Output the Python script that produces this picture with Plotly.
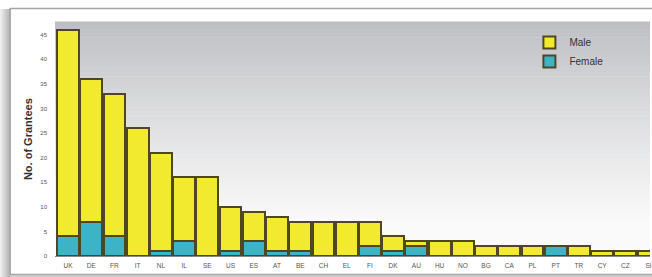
import plotly.graph_objects as go

countries = ["UK", "DE", "FR", "IT", "NL", "IL", "SE", "US", "ES", "AT", "BE", "CH", "EL",
             "FI", "DK", "AU", "HU", "NO", "BG", "CA", "PL", "PT", "TR", "CY", "CZ", "SI"]
totals = [46, 36, 33, 26, 21, 16, 16, 10, 9, 8, 7, 7, 7, 7, 4, 3, 3, 3, 2, 2, 2, 2, 2, 1, 1, 1]
female = [4, 7, 4, 0, 1, 3, 0, 1, 3, 1, 1, 0, 0, 2, 1, 2, 0, 0, 0, 0, 0, 2, 0, 0, 0, 0]
male = [t - f for t, f in zip(totals, female)]
y_ticks = [0, 5, 10, 15, 20, 25, 30, 35, 40, 45]

W, H = 652, 277
L, R, T, B = 55, 0, 22, 21
pw, ph = W - L - R, H - T - B

def px_x(x):
    return (x - L) / pw

def px_y(y):
    return (H - B - y) / ph

YELLOW = "#f2ea2e"
TEAL = "#3db4c6"
EDGE = "#4f4722"

fig = go.Figure()
fig.add_trace(go.Bar(x=countries, y=female, name="Female",
                     marker=dict(color=TEAL, line=dict(color=EDGE, width=2))))
fig.add_trace(go.Bar(x=countries, y=male, name="Male",
                     marker=dict(color=YELLOW, line=dict(color=EDGE, width=2))))

shapes = []
# gradient background bands
n = 60
top = (188, 189, 193)
bot = (250, 250, 250)
for i in range(n):
    f0 = i / n
    f1 = (i + 1) / n
    t = 1 - (f0 + f1) / 2  # 0 at top
    t = min(1.0, t / 0.85) ** 0.85
    c = tuple(int(round(top[k] + (bot[k] - top[k]) * t)) for k in range(3))
    shapes.append(dict(type="rect", xref="paper", yref="paper", x0=0, x1=1,
                       y0=f0, y1=f1 + 0.002, fillcolor="rgb(%d,%d,%d)" % c,
                       line=dict(width=0), layer="below"))
# left shadow strip
m = 10
for i in range(m):
    g = int(round(235 - (235 - 170) * i / (m - 1)))
    shapes.append(dict(type="rect", xref="paper", yref="paper",
                       x0=px_x(i), x1=px_x(i + 1.05), y0=px_y(277), y1=px_y(9),
                       fillcolor="rgb(%d,%d,%d)" % (g, g, g), line=dict(width=0),
                       layer="below"))
# outer frame
shapes.append(dict(type="rect", xref="paper", yref="paper",
                   x0=px_x(10), x1=px_x(700), y0=px_y(274.5), y1=px_y(8.5),
                   line=dict(color="#a5a5a5", width=1.5), fillcolor="rgba(0,0,0,0)",
                   layer="below"))
shapes.append(dict(type="rect", xref="paper", yref="paper",
                   x0=px_x(10), x1=px_x(700), y0=px_y(277.5), y1=px_y(275),
                   line=dict(width=0), fillcolor="#c8c8c8", layer="below"))

fig.update_layout(
    width=W, height=H,
    margin=dict(l=L, r=R, t=T, b=B, pad=0),
    paper_bgcolor="white",
    plot_bgcolor="white",
    barmode="stack",
    bargap=0.06,
    shapes=shapes,
    showlegend=True,
    legend=dict(x=px_x(531), y=px_y(28), xanchor="left", yanchor="top",
                traceorder="reversed", bgcolor="rgba(0,0,0,0)",
                font=dict(family="Liberation Sans", size=10, color="#333"),
                itemwidth=30, tracegroupgap=0),
    font=dict(family="Liberation Sans", size=6, color="#444"),
    xaxis=dict(range=[-0.56, 25.06], showgrid=False, showline=True,
               linecolor="#888", linewidth=1, ticks="", ticklabelstandoff=3,
               tickfont=dict(size=6.5, color="#555"), tickangle=0),
    yaxis=dict(range=[0, 47.6], tickvals=y_ticks, showgrid=False, showline=False,
               zeroline=False, ticks="", ticklabelstandoff=7,
               tickfont=dict(size=6, color="#555")),
    annotations=[dict(text="<b>No. of Grantees</b>", xref="paper", yref="paper",
                      x=px_x(20), y=px_y(139), textangle=-90, showarrow=False,
                      font=dict(family="Liberation Sans", size=11, color="#333"))],
)

fig.write_html("out.html", config={"displayModeBar": False},
               post_script="document.body.style.margin='0';")
